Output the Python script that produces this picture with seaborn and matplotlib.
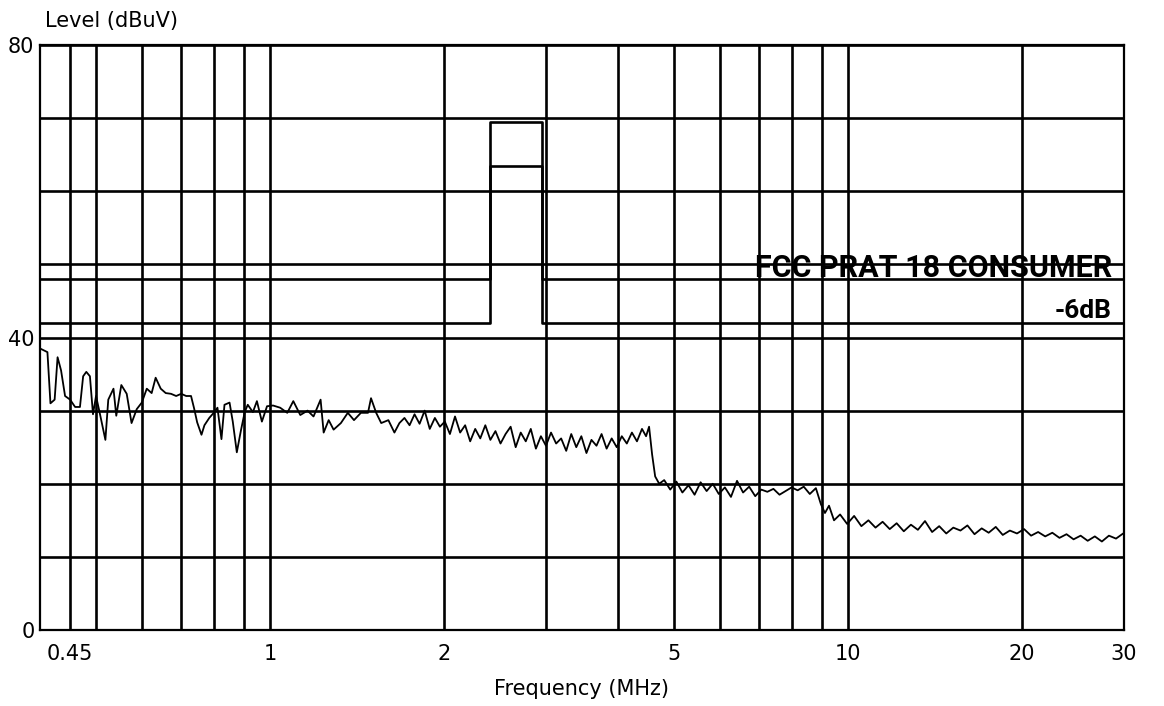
import matplotlib
matplotlib.use("Agg")
import matplotlib.pyplot as plt
import seaborn as sns
import pandas as pd
from matplotlib.ticker import FixedLocator, FixedFormatter, NullFormatter

# ---------------- data ----------------
freq_mhz = [
    0.400, 0.412, 0.417, 0.424, 0.429, 0.435, 0.442, 0.451, 0.460, 0.469,
    0.475, 0.481, 0.488, 0.494, 0.500, 0.508, 0.519, 0.525, 0.536, 0.542,
    0.553, 0.565, 0.576, 0.588, 0.600, 0.612, 0.624, 0.634, 0.647, 0.660,
    0.674, 0.688, 0.702, 0.716, 0.730, 0.739, 0.748, 0.761, 0.770, 0.785,
    0.801, 0.811, 0.824, 0.834, 0.851, 0.862, 0.876, 0.890, 0.904, 0.915,
    0.934, 0.949, 0.968, 0.988, 1.012, 1.041, 1.071, 1.097, 1.128, 1.161,
    1.189, 1.223, 1.238, 1.263, 1.288, 1.326, 1.363, 1.397, 1.436, 1.477,
    1.495, 1.526, 1.557, 1.602, 1.641, 1.674,
    1.708, 1.743, 1.778, 1.814, 1.851, 1.889, 1.928, 1.967, 2.006, 2.047,
    2.089, 2.132, 2.175, 2.219, 2.264, 2.310, 2.357, 2.405, 2.454, 2.504,
    2.555, 2.607, 2.660, 2.714, 2.769, 2.825, 2.883, 2.941, 3.001, 3.062,
    3.125, 3.188, 3.253, 3.319, 3.386, 3.455, 3.526, 3.597, 3.670, 3.745,
    3.821, 3.899, 3.978, 4.059, 4.141, 4.226, 4.312, 4.399, 4.471, 4.525,
    4.580, 4.636, 4.711,
    4.806, 4.923, 5.044, 5.167, 5.294, 5.424, 5.556, 5.691, 5.831, 5.973,
    6.120, 6.270, 6.423, 6.580, 6.741, 6.906, 7.075, 7.248, 7.425, 7.607,
    7.793, 7.983, 8.178, 8.378, 8.583, 8.793, 8.971, 9.117, 9.265, 9.452,
    9.683,
    9.96, 10.24, 10.54, 10.84, 11.15, 11.47, 11.80, 12.13, 12.48, 12.84,
    13.20, 13.58, 13.97, 14.37, 14.78, 15.20, 15.64, 16.08, 16.54, 17.02,
    17.50, 18.00, 18.51, 19.04, 19.59, 20.15, 20.72, 21.31, 21.92, 22.55,
    23.20, 23.86, 24.54, 25.24, 25.96, 26.71, 27.47, 28.25, 29.06, 29.90,
]
level_dbuv = [
    38.5, 38.0, 31.0, 31.5, 37.3, 35.5, 32.0, 31.5, 30.5, 30.5,
    34.7, 35.3, 34.7, 29.5, 32.0, 29.5, 26.0, 31.5, 33.0, 29.3,
    33.5, 32.3, 28.3, 30.2, 31.1, 33.0, 32.4, 34.5, 33.0, 32.4,
    32.3, 32.0, 32.3, 32.0, 32.0, 30.3, 28.4, 26.7, 28.0, 29.0,
    29.8, 30.4, 26.1, 30.8, 31.1, 28.5, 24.3, 27.2, 29.8, 30.8,
    29.8, 31.3, 28.5, 30.6, 30.7, 30.4, 29.7, 31.3, 29.4, 30.0,
    29.2, 31.5, 27.0, 28.7, 27.4, 28.3, 29.7, 28.7, 29.7, 29.7,
    31.7, 29.7, 28.3, 28.7, 27.0, 28.3,
    29.0, 28.0, 29.5, 28.2, 30.0, 27.5, 29.0, 27.8, 28.5, 26.8,
    29.2, 27.0, 28.0, 25.8, 27.5, 26.2, 28.0, 26.0, 27.2, 25.5,
    26.8, 27.8, 25.0, 27.0, 25.8, 27.5, 24.8, 26.5, 25.2, 27.0,
    25.5, 26.2, 24.5, 26.8, 25.0, 26.5, 24.2, 26.0, 25.2, 26.8,
    24.8, 26.2, 25.0, 26.5, 25.5, 27.0, 25.8, 27.5, 26.5, 27.8,
    24.0, 21.0, 20.0,
    20.5, 19.2, 20.3, 18.8, 19.8, 18.5, 20.2, 19.0, 20.0, 18.6,
    19.5, 18.2, 20.4, 18.8, 19.6, 18.3, 19.2, 18.9, 19.3, 18.5,
    19.0, 19.5, 19.1, 19.6, 18.6, 19.4, 17.2, 16.0, 17.0, 15.0,
    15.8,
    14.5, 15.6, 14.2, 15.0, 14.0, 14.8, 13.8, 14.6, 13.5, 14.4,
    13.7, 14.9, 13.4, 14.2, 13.2, 14.0, 13.6, 14.3, 13.1, 13.9,
    13.3, 14.1, 13.0, 13.6, 13.2, 13.8, 12.9, 13.4, 12.8, 13.3,
    12.6, 13.1, 12.4, 12.9, 12.2, 12.8, 12.1, 12.9, 12.5, 13.2,
]

limit_freq = [0.40, 2.40, 2.95, 30.0]
limit_level = [48.0, 69.5, 48.0, 48.0]
limit_minus6_level = [42.0, 63.5, 42.0, 42.0]

grid_freqs = [0.45, 0.5, 0.6, 0.7, 0.8, 0.9, 1, 2, 3, 4, 5, 6, 7, 8, 9, 10, 20, 30]
xtick_vals = [0.45, 1, 2, 5, 10, 20, 30]
xtick_labels = ["0.45", "1", "2", "5", "10", "20", "30"]
ytick_vals = [0, 40, 80]
ytick_labels = ["0", "40", "80"]
ygrid_vals = [0, 10, 20, 30, 40, 50, 60, 70, 80]

limit_name = "FCC PRAT 18 CONSUMER"
margin_name = "-6dB"

# ---------------- plot ----------------
sns.set_style("white")
plt.rcParams["font.family"] = ["DejaVu Sans"]
plt.rcParams["text.color"] = "black"
plt.rcParams["axes.labelcolor"] = "black"
plt.rcParams["xtick.color"] = "black"
plt.rcParams["ytick.color"] = "black"

fig, ax = plt.subplots(figsize=(11.64, 7.06), dpi=100)
fig.subplots_adjust(left=40 / 1164, right=1124 / 1164,
                    bottom=1 - 630 / 706, top=1 - 45 / 706)

trace = pd.DataFrame({"Frequency": freq_mhz, "Level": level_dbuv})
lim = pd.DataFrame({"Frequency": limit_freq, "Limit": limit_level,
                    "Margin": limit_minus6_level})

sns.lineplot(data=trace, x="Frequency", y="Level", ax=ax, color="black",
             linewidth=1.3, sort=False, estimator=None, zorder=3)
sns.lineplot(data=lim, x="Frequency", y="Limit", ax=ax, color="black",
             linewidth=1.9, sort=False, estimator=None, drawstyle="steps-post", zorder=3)
sns.lineplot(data=lim, x="Frequency", y="Margin", ax=ax, color="black",
             linewidth=1.9, sort=False, estimator=None, drawstyle="steps-post", zorder=3)

ax.set_xscale("log")
ax.set_xlim(0.40, 30)
ax.set_ylim(0, 80)

ax.xaxis.set_major_locator(FixedLocator(xtick_vals))
ax.xaxis.set_major_formatter(FixedFormatter(xtick_labels))
ax.xaxis.set_minor_locator(FixedLocator(grid_freqs))
ax.xaxis.set_minor_formatter(NullFormatter())
ax.yaxis.set_major_locator(FixedLocator(ytick_vals))
ax.yaxis.set_major_formatter(FixedFormatter(ytick_labels))
ax.yaxis.set_minor_locator(FixedLocator(ygrid_vals))

ax.grid(True, which="both", axis="both", color="black", linewidth=1.9, zorder=1)
ax.tick_params(which="both", length=0)
ax.tick_params(axis="x", which="major", labelsize=15, pad=10)
ax.tick_params(axis="y", which="major", labelsize=15, pad=4)

for s in ax.spines.values():
    s.set_color("black")
    s.set_linewidth(1.6)

ax.set_xlabel("Frequency (MHz)", fontsize=15, labelpad=11)
ax.set_ylabel("")
fig.text(45 / 1164, 1 - 27 / 706, "Level (dBuV)", fontsize=15,
         ha="left", va="baseline")

ax.annotate(limit_name, xy=(30, limit_level[-1]), xytext=(-12, 2),
            textcoords="offset pixels", ha="right", va="baseline",
            fontsize=22, fontweight="bold",
            family=["Roboto", "DejaVu Sans"], zorder=2)
ax.annotate(margin_name, xy=(30, limit_minus6_level[-1]), xytext=(-12, 5),
            textcoords="offset pixels", ha="right", va="baseline",
            fontsize=19, fontweight="bold",
            family=["Roboto", "DejaVu Sans"], zorder=2)

fig.savefig("out.png", dpi=100, facecolor="white")
